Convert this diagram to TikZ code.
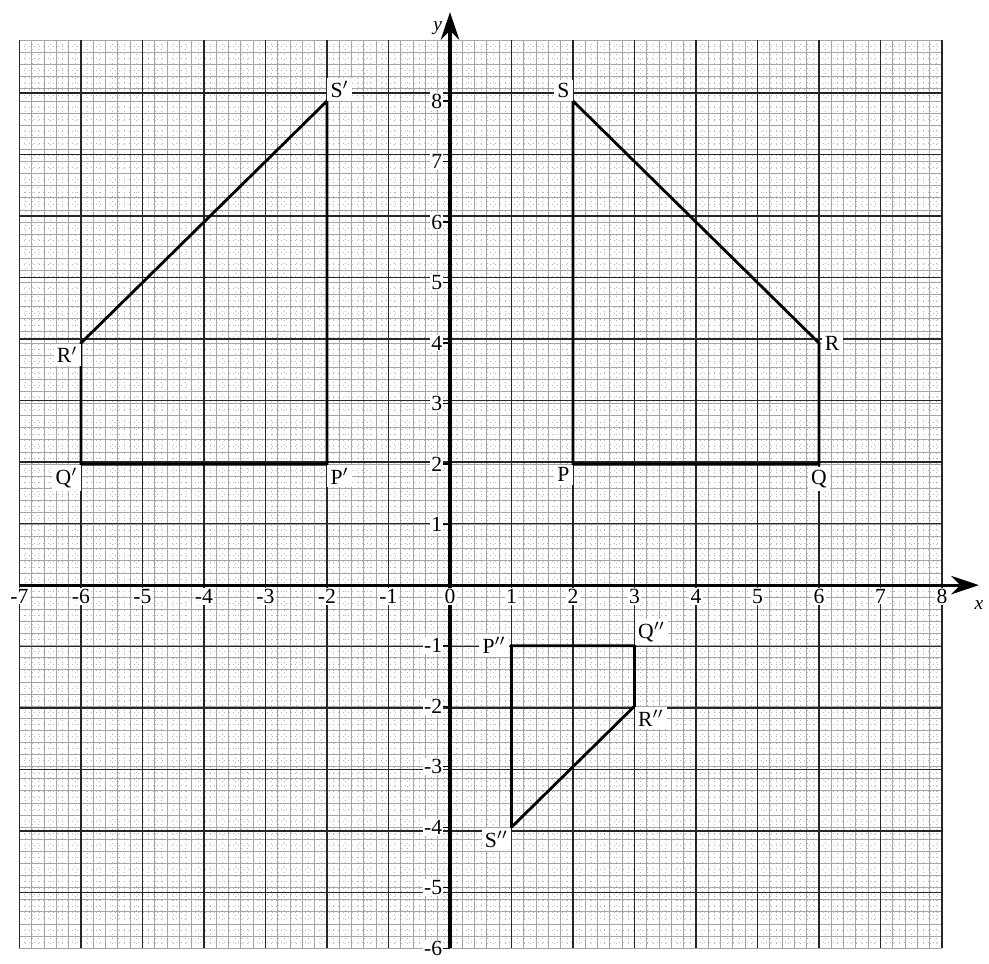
\documentclass[tikz,border=0pt]{standalone}
\usepackage{fontspec}
\setmainfont{Liberation Serif}
\usetikzlibrary{arrows.meta}

\begin{document}
\begin{tikzpicture}[
    x=1cm, y=0.984cm,
    >=Stealth,
    axis/.style={line width=1.4pt, -{Stealth[length=4.5mm, width=3mm]}},
    figline/.style={line width=1.3pt, line join=miter},
    vlabel/.style={font=\normalsize, fill=white, inner sep=1.5pt},
    num/.style={font=\normalsize, fill=white, inner sep=0.6pt}
]
\useasboundingbox (-7.317,-6.248) rectangle (8.764,9.669);

% graph paper
\draw[gray!55, very thin, dotted] (-7,-6) grid[step=0.1] (8,9);
\draw[gray!70, thin] (-7,-6) grid[step=0.2] (8,9);
\draw[black!85, semithick] (-7,-6) grid (8,9);

% axes
\coordinate (xstart) at (-7,0);
\coordinate (xend)   at (8.6,0);
\coordinate (ystart) at (0,-6);
\coordinate (yend)   at (0,9.47);
\draw[axis] (xstart) -- (xend);
\draw[axis] (ystart) -- (yend);
\node[font=\small\itshape] (xlab) at (8.6,-0.33) {x};
\node[font=\small\itshape] (ylab) at (-0.2,9.2) {y};

% numbers on the axes
\foreach \x in {-7,...,8}
    \node[num, below=1pt] at (\x,0) {\x};
\foreach \y in {-6,...,-1,1,2,...,8} {
    \draw[semithick] (-0.14,\y) -- (0,\y);
    \node[num, left=0pt] at (-0.1,\y) {\y};
}

% PQRS
\coordinate (P) at (2,2);
\coordinate (Q) at (6,2);
\coordinate (R) at (6,4);
\coordinate (S) at (2,8);
\draw[figline] (P) -- (Q) -- (R) -- (S) -- cycle;
\node[vlabel, below left=0pt]  at (P) {P};
\node[vlabel, below=1pt]       at (Q) {Q};
\node[vlabel, right=1pt]       at (R) {R};
\node[vlabel, above left=0pt]  at (S) {S};

% P'Q'R'S'
\coordinate (P1) at (-2,2);
\coordinate (Q1) at (-6,2);
\coordinate (R1) at (-6,4);
\coordinate (S1) at (-2,8);
\draw[figline] (P1) -- (Q1) -- (R1) -- (S1) -- cycle;
\node[vlabel, below right=0pt] at (P1) {P$'$};
\node[vlabel, below left=0pt]  at (Q1) {Q$'$};
\node[vlabel, below left=0pt]  at (R1) {R$'$};
\node[vlabel, above right=0pt] at (S1) {S$'$};

% P''Q''R''S''
\coordinate (P2) at (1,-1);
\coordinate (Q2) at (3,-1);
\coordinate (R2) at (3,-2);
\coordinate (S2) at (1,-4);
\draw[figline] (P2) -- (Q2) -- (R2) -- (S2) -- cycle;
\node[vlabel, left=1pt]         at (P2) {P$''$};
\node[vlabel, above right=0pt]  at (Q2) {Q$''$};
\node[vlabel, below right=0pt]  at (R2) {R$''$};
\node[vlabel, below left=0pt]   at (S2) {S$''$};

\end{tikzpicture}
\end{document}
